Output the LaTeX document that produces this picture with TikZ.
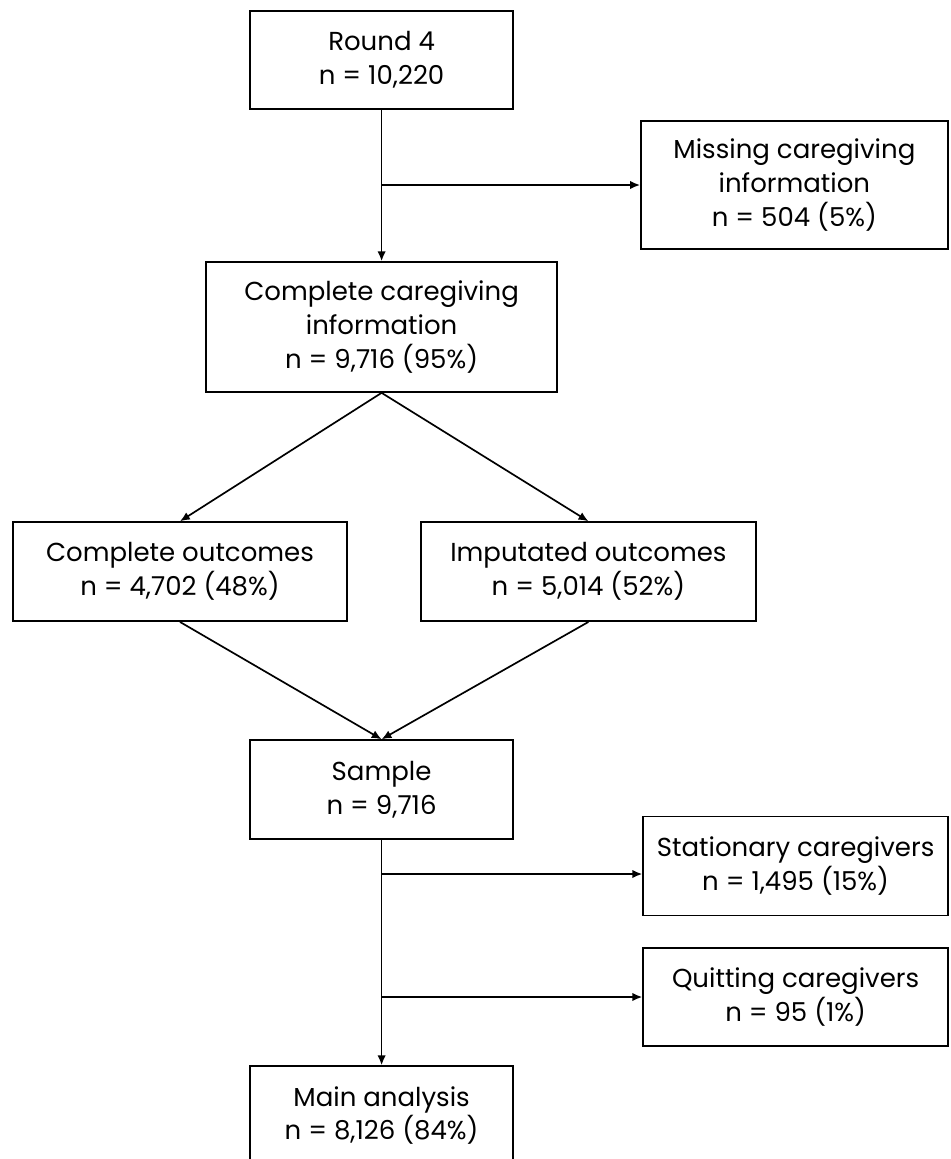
\documentclass[tikz,border=0pt]{standalone}
\usepackage{fontspec}
\setmainfont{Poppins}
\usetikzlibrary{arrows.meta}
\begin{document}
\begin{tikzpicture}[x=1cm,y=1cm,
  box/.style={draw, rectangle, align=center, line width=1.2pt, inner sep=2pt, font=\fontsize{18.5}{24}\selectfont},
  arr/.style={line width=1.2pt, -{Latex[length=7pt,width=6pt]}}]
\useasboundingbox (0,0) rectangle (23.75,-28.975);
\node[box, minimum width=6.575cm, minimum height=2.45cm] (r4) at (9.54,-1.5) {Round 4\\n = 10,220};
\node[box, minimum width=7.675cm, minimum height=3.2cm] (miss) at (19.86,-4.625) {Missing caregiving\\information\\n = 504 (5\%)};
\node[box, minimum width=8.775cm, minimum height=3.25cm] (cg) at (9.54,-8.175) {Complete caregiving\\information\\n = 9,716 (95\%)};
\node[box, minimum width=8.35cm, minimum height=2.475cm] (co) at (4.5,-14.29) {Complete outcomes\\n = 4,702 (48\%)};
\node[box, minimum width=8.375cm, minimum height=2.475cm] (io) at (14.71,-14.29) {Imputated outcomes\\n = 5,014 (52\%)};
\node[box, minimum width=6.575cm, minimum height=2.475cm] (smp) at (9.54,-19.74) {Sample\\n = 9,716};
\node[box, minimum width=7.625cm, minimum height=2.475cm] (stat) at (19.89,-21.65) {Stationary caregivers\\n = 1,495 (15\%)};
\node[box, minimum width=7.625cm, minimum height=2.45cm] (quit) at (19.89,-24.925) {Quitting caregivers\\n = 95 (1\%)};
\node[box, minimum width=6.575cm, minimum height=2.475cm] (main) at (9.54,-27.89) {Main analysis\\n = 8,126 (84\%)};
\coordinate (b1) at (9.54,-4.625);
\coordinate (b2) at (9.54,-21.85);
\coordinate (b3) at (9.54,-24.925);
\draw[arr] (r4) -- (cg);
\draw[arr] (b1) -- (b1 -| miss.west);
\draw[arr] (cg.south) -- (co.north);
\draw[arr] (cg.south) -- (io.north);
\draw[arr] (co.south) -- (smp.north);
\draw[arr] (io.south) -- (smp.north);
\draw[arr] (smp) -- (main);
\draw[arr] (b2) -- (b2 -| stat.west);
\draw[arr] (b3) -- (b3 -| quit.west);
\end{tikzpicture}
\end{document}
